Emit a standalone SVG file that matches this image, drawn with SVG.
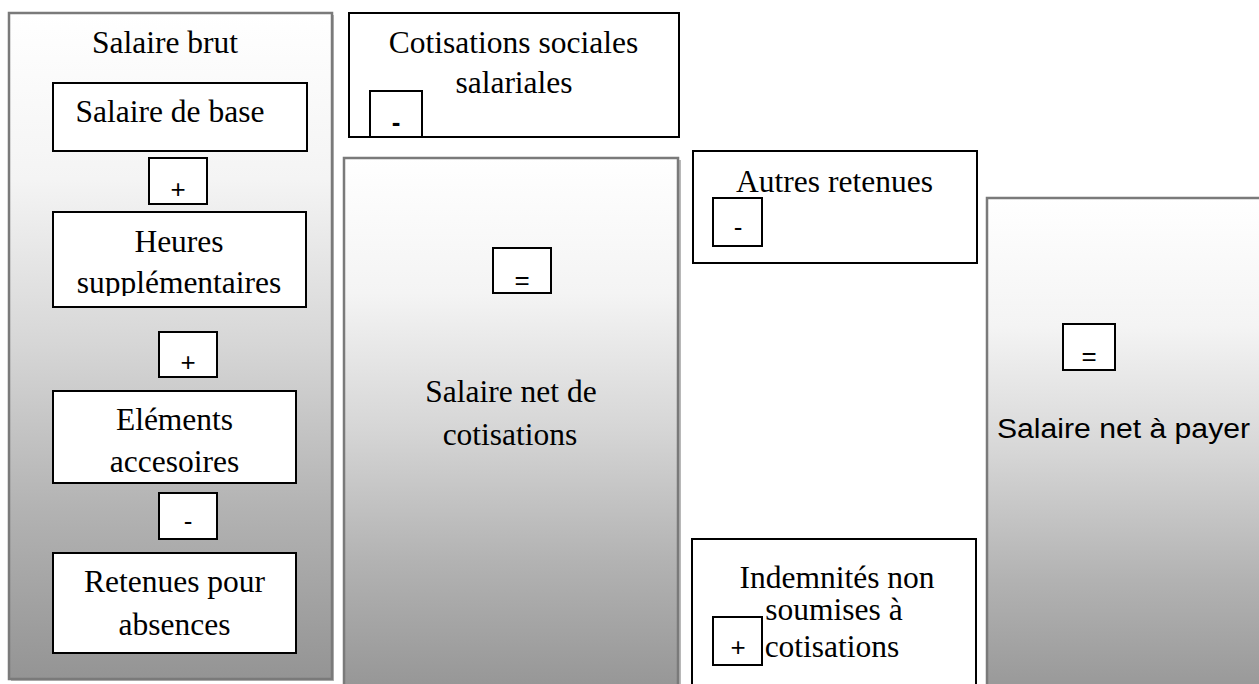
<svg xmlns="http://www.w3.org/2000/svg" width="1259" height="684" viewBox="0 0 1259 684">
  <style>
    .big { stroke: #7a7a7a; stroke-width: 2.5; }
    .shadow { fill: #b8b8b8; }
    .box { fill: #ffffff; stroke: #000000; stroke-width: 2; }
    .t { font-family: "Liberation Serif", "Times New Roman", serif; font-size: 31.5px; fill: #000; text-anchor: middle; }
    .s { font-family: "Liberation Sans", Arial, sans-serif; font-size: 26px; fill: #000; text-anchor: middle; }
    .sb { font-family: "Liberation Sans", Arial, sans-serif; font-size: 26px; font-weight: bold; fill: #000; text-anchor: middle; }
  </style>
  <defs>
    <linearGradient id="grad" x1="0" y1="0" x2="0" y2="1">
      <stop offset="0" stop-color="#ffffff"/>
      <stop offset="0.25" stop-color="#f4f4f4"/>
      <stop offset="0.5" stop-color="#d6d6d6"/>
      <stop offset="0.75" stop-color="#b2b2b2"/>
      <stop offset="1" stop-color="#949494"/>
    </linearGradient>
    <clipPath id="clipHeures">
      <rect x="53" y="212" width="253" height="84"/>
    </clipPath>
  </defs>
  <rect width="1259" height="684" fill="#ffffff"/>

  <g id="salaire-brut">
    <rect class="shadow" x="11" y="15" width="323" height="666"/>
    <rect class="big" x="9" y="13" width="323" height="666" fill="url(#grad)"/>
    <text class="t" x="165" y="53">Salaire brut</text>
  </g>

  <g id="salaire-de-base">
    <rect class="box" x="53" y="83" width="254" height="68"/>
    <text class="t" x="170" y="122">Salaire de base</text>
  </g>

  <g id="op-plus-1">
    <rect class="box" x="149" y="158" width="58" height="46"/>
    <text class="s" x="178" y="197.5">+</text>
  </g>

  <g id="heures-supplementaires">
    <rect class="box" x="53" y="212" width="253" height="95"/>
    <g clip-path="url(#clipHeures)">
      <text class="t" x="179" y="252">Heures</text>
      <text class="t" x="179" y="293">supplémentaires</text>
    </g>
  </g>

  <g id="op-plus-2">
    <rect class="box" x="159" y="332" width="58" height="45"/>
    <text class="s" x="188" y="371">+</text>
  </g>

  <g id="elements-accessoires">
    <rect class="box" x="53" y="391" width="243" height="92"/>
    <text class="t" x="174.5" y="430">Eléments</text>
    <text class="t" x="174.5" y="472">accesoires</text>
  </g>

  <g id="op-minus-1">
    <rect class="box" x="159" y="493" width="58" height="46"/>
    <text class="s" x="188" y="530">-</text>
  </g>

  <g id="retenues-absences">
    <rect class="box" x="53" y="553" width="243" height="100"/>
    <text class="t" x="174.5" y="592">Retenues pour</text>
    <text class="t" x="174.5" y="635">absences</text>
  </g>

  <g id="cotisations-sociales">
    <rect class="box" x="349" y="13" width="330" height="124"/>
    <text class="t" x="513.5" y="53">Cotisations sociales</text>
    <text class="t" x="514" y="93">salariales</text>
    <rect class="box" x="370" y="91" width="52" height="46"/>
    <text class="sb" x="396" y="131">-</text>
  </g>

  <g id="salaire-net-cotisations">
    <rect class="shadow" x="346" y="160" width="335" height="530"/>
    <rect class="big" x="344" y="158" width="334" height="540" fill="url(#grad)"/>
    <rect class="box" x="493" y="248" width="58" height="45"/>
    <text class="s" x="522" y="289">=</text>
    <text class="t" x="511" y="402">Salaire net de</text>
    <text class="t" x="510" y="445">cotisations</text>
  </g>

  <g id="autres-retenues">
    <rect class="box" x="693" y="151" width="284" height="112"/>
    <text class="t" x="834.5" y="192">Autres retenues</text>
    <rect class="box" x="713" y="198" width="49" height="48"/>
    <text class="s" x="738" y="236">-</text>
  </g>

  <g id="indemnites">
    <rect class="box" x="692" y="539" width="284" height="160"/>
    <text class="t" x="837" y="588">Indemnités non</text>
    <text class="t" x="834" y="620">soumises à</text>
    <text class="t" x="832" y="657">cotisations</text>
    <rect class="box" x="713" y="617" width="49" height="48"/>
    <text class="s" x="738" y="656">+</text>
  </g>

  <g id="salaire-net-a-payer">
    <rect class="shadow" x="989" y="200" width="280" height="500"/>
    <rect class="big" x="987" y="198" width="290" height="510" fill="url(#grad)"/>
    <rect class="box" x="1063" y="324" width="52" height="46"/>
    <text class="s" x="1089" y="365">=</text>
    <text font-family="Liberation Sans, Arial, sans-serif" font-size="27" x="997" y="438" textLength="253" lengthAdjust="spacingAndGlyphs" fill="#000">Salaire net à payer</text>
  </g>

  <g id="connectors"></g>
</svg>
